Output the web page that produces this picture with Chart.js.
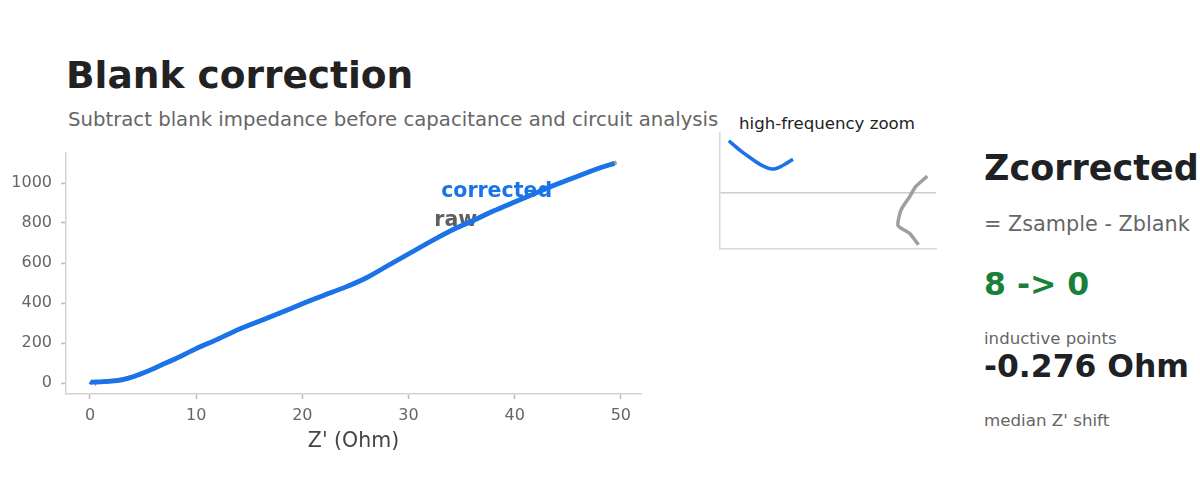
<!DOCTYPE html>
<html>
<head>
<meta charset="utf-8">
<script src="https://cdn.jsdelivr.net/npm/chart.js@4"></script>
<style>
  html, body { margin:0; padding:0; background:#fff; }
  body { width:1200px; height:480px; position:relative; overflow:hidden; font-family:"DejaVu Sans", sans-serif; }
  .t { position:absolute; white-space:nowrap; }
  #mainBox { position:absolute; left:0; top:140px; width:660px; height:330px; }
  #insetBox { position:absolute; left:700px; top:123px; width:250px; height:140px; }
</style>
</head>
<body>
<div class="t" style="left:66px; top:57px; font-size:37.5px; line-height:37.5px; font-weight:bold; color:#222;">Blank correction</div>
<div class="t" style="left:68px; top:110px; font-size:19.7px; line-height:19.7px; color:#666;">Subtract blank impedance before capacitance and circuit analysis</div>
<div class="t" style="left:739px; top:116px; font-size:16.6px; line-height:16.6px; color:#222;">high-frequency zoom</div>

<div class="t" style="left:984px; top:151px; font-size:35px; line-height:35px; font-weight:bold; color:#202124;">Zcorrected</div>
<div class="t" style="left:984px; top:214px; font-size:20.8px; line-height:20.8px; color:#666;">= Zsample - Zblank</div>
<div class="t" style="left:984px; top:269px; font-size:31.5px; line-height:31.5px; font-weight:bold; color:#188038;">8 -&gt; 0</div>
<div class="t" style="left:984px; top:331px; font-size:16.6px; line-height:16.6px; color:#666;">inductive points</div>
<div class="t" style="left:984px; top:351px; font-size:31.4px; line-height:31.4px; font-weight:bold; color:#202124;">-0.276 Ohm</div>
<div class="t" style="left:984px; top:412px; font-size:16.7px; line-height:16.7px; color:#666;">median Z' shift</div>

<div id="mainBox"><canvas id="main"></canvas></div>
<div id="insetBox"><canvas id="inset"></canvas></div>

<script>
// ---- data (Z' in Ohm, -Z'' in Ohm) ----
const corrRe = [0.00,0.04,0.07,0.11,0.15,0.18,0.22, 1,2,3,4,5,6,7,8,10,12,14,16,18,20,22,24,26,28,30,32,34,36,38,40,42,44,46,48,49.4];
const corrIm = [7.3,5.9,5.0,3.9,3.3,3.7,4.7, 6,9,16,30,50,72,97,120,172,218,268,310,352,396,438,478,525,585,645,705,762,810,860,905,950,995,1035,1075,1098];
const rawRe  = [0.65,0.62,0.58,0.59,0.62,0.64,0.68, 1.2,2.2,3.2,4.2,5.2,6.2,7.2,8.2,10.2,12.2,14.2,16.2,18.2,20.2,22.2,24.2,26.2,28.2,30.2,32.2,34.2,36.2,38.2,40.2,42.2,44.2,46.2,48.2,49.6];
const rawIm  = [-7.4,-5.8,-4.7,-2.5,-0.6,0.8,2.3, 8,12,20,35,55,77,102,125,176,223,273,314,356,401,442,482,530,592,652,712,768,815,865,910,954,999,1039,1079,1103];
const hfCount = 7;           // high-frequency points shown in the zoom panel
const xTicksMain = [0,10,20,30,40,50];
const yTicksMain = [0,200,400,600,800,1000];
const seriesLabels = ["corrected", "raw"];

const toPts = (xs, ys) => xs.map((x, i) => ({x, y: ys[i]}));

const BLUE = '#1a73e8', GREY = '#9e9e9e';
const FONT = '"DejaVu Sans", sans-serif';

const labelPlugin = {
  id: 'seriesLabels',
  beforeDatasetsDraw(chart) {
    const {ctx, scales:{x, y}} = chart;
    const items = [
      {text: seriesLabels[0], x: 38.3, y: 930, color: BLUE},
      {text: seriesLabels[1], x: 34.45, y: 785, color: '#5f5f5f'}
    ];
    ctx.save();
    ctx.font = 'bold 20.5px ' + FONT;
    ctx.textAlign = 'center';
    ctx.textBaseline = 'alphabetic';
    items.forEach(it => {
      ctx.fillStyle = it.color;
      ctx.fillText(it.text, x.getPixelForValue(it.x), y.getPixelForValue(it.y));
    });
    ctx.restore();
  }
};

const noPad = s => { s.paddingTop = 0; s.paddingBottom = 0; s.paddingLeft = 0; s.paddingRight = 0; };

new Chart(document.getElementById('main'), {
  type: 'line',
  data: {
    datasets: [
      {label: 'raw', data: toPts(rawRe, rawIm), borderColor: GREY, borderWidth: 4, pointRadius: 0, tension: 0.2, order: 2},
      {label: 'corrected', data: toPts(corrRe, corrIm), borderColor: BLUE, borderWidth: 4.8, pointRadius: 0, tension: 0.2, order: 1}
    ]
  },
  options: {
    responsive: true, maintainAspectRatio: false, animation: false,
    layout: {padding: {top: 13, right: 19, left: 0, bottom: 0}},
    plugins: {legend: {display: false}, tooltip: {enabled: false}},
    scales: {
      x: {
        type: 'linear', min: -2.26, max: 51.9,
        afterFit: s => { s.height = 76; noPad(s); },
        afterBuildTicks: s => { s.ticks = xTicksMain.map(v => ({value: v})); },
        ticks: {color: '#666', font: {family: FONT, size: 16}, padding: 7, callback: v => String(v)},
        grid: {display: true, drawOnChartArea: false, drawTicks: true, tickLength: 5, color: '#bbb', tickWidth: 1.5},
        border: {display: true, color: '#d4d4d4', width: 1.5},
        title: {display: true, text: "Z' (Ohm)", color: '#444', font: {family: FONT, size: 20.5}, padding: {top: 4, bottom: 16.5}}
      },
      y: {
        type: 'linear', min: -55, max: 1150,
        afterFit: s => { s.width = 66; noPad(s); },
        afterBuildTicks: s => { s.ticks = yTicksMain.map(v => ({value: v})); },
        ticks: {color: '#666', font: {family: FONT, size: 16}, padding: 9, callback: v => String(v)},
        grid: {display: true, drawOnChartArea: false, drawTicks: true, tickLength: 5, color: '#bbb', tickWidth: 1.5},
        border: {display: true, color: '#d4d4d4', width: 1.5}
      }
    }
  },
  plugins: [labelPlugin]
});

new Chart(document.getElementById('inset'), {
  type: 'line',
  data: {
    datasets: [
      {label: 'raw', data: toPts(rawRe.slice(0, hfCount), rawIm.slice(0, hfCount)), borderColor: GREY, borderWidth: 3.5, pointRadius: 0, tension: 0.2},
      {label: 'corrected', data: toPts(corrRe.slice(0, hfCount), corrIm.slice(0, hfCount)), borderColor: BLUE, borderWidth: 3.5, pointRadius: 0, tension: 0.3}
    ]
  },
  options: {
    responsive: true, maintainAspectRatio: false, animation: false,
    layout: {padding: {top: 10, right: 14, left: 0, bottom: 0}},
    plugins: {legend: {display: false}, tooltip: {enabled: false}},
    scales: {
      x: {
        type: 'linear', min: -0.03, max: 0.71,
        afterFit: s => { s.height = 14; noPad(s); },
        ticks: {display: false},
        grid: {display: false},
        border: {display: true, color: '#d8d8d8', width: 1.5}
      },
      y: {
        type: 'linear', min: -8, max: 8.4,
        afterFit: s => { s.width = 20; noPad(s); },
        afterBuildTicks: s => { s.ticks = [{value: 0}]; },
        ticks: {display: false},
        grid: {display: true, drawTicks: false, color: '#c9ced8', lineWidth: 1.5},
        border: {display: true, color: '#d8d8d8', width: 1.5}
      }
    }
  }
});
</script>
</body>
</html>
